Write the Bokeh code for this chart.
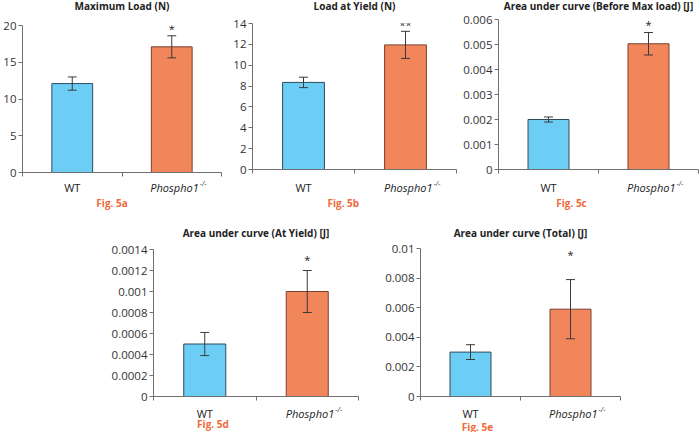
from bokeh.plotting import figure
from bokeh.layouts import column, row
from bokeh.models import Range1d, FixedTicker, CustomJSTickFormatter, Spacer
from bokeh.core.properties import value
from bokeh.embed import file_html
from bokeh.resources import INLINE

# ---------------- data ----------------
groups = ["WT", "Phospho1"]
genotype_sup = "-/-"
fig_labels = ["Fig. 5a", "Fig. 5b", "Fig. 5c", "Fig. 5d", "Fig. 5e"]
titles = ["Maximum Load (N)", "Load at Yield (N)",
          "Area under curve (Before Max load) [J]",
          "Area under curve (At Yield) [J]", "Area under curve (Total) [J]"]

max_load = [12.1, 17.1]
max_load_err = [0.9, 1.5]
yield_load = [8.35, 11.95]
yield_load_err = [0.5, 1.3]
auc_before = [0.002, 0.00503]
auc_before_err = [0.0001, 0.00045]
auc_yield = [0.0005, 0.001]
auc_yield_err = [0.00011, 0.0002]
auc_total = [0.003, 0.0059]
auc_total_err = [0.0005, 0.002]

stars = ["*", "**", "*", "*", "*"]
star_y = [19.7, 14.0, 0.00584, 0.00131, 0.00966]

ticks_a = [0, 5, 10, 15, 20]
ticks_b = [0, 2, 4, 6, 8, 10, 12, 14]
ticks_c = [0, 0.001, 0.002, 0.003, 0.004, 0.005, 0.006]
ticks_d = [0, 0.0002, 0.0004, 0.0006, 0.0008, 0.001, 0.0012, 0.0014]
ticks_e = [0, 0.002, 0.004, 0.006, 0.008, 0.01]

FONT = "Open Sans"
BLUE = "#6CCEF5"
ORANGE = "#F0865A"
ORANGE_TXT = "#EE6A3A"
AXIS = "#707070"
ERR = "#3a3a3a"
TXT = "#222222"


def strip(width, height, bl, br, x_range):
    s = figure(width=width, height=height, output_backend="svg",
               toolbar_location=None, min_border_left=bl, min_border_right=br,
               min_border_top=0, min_border_bottom=0,
               x_range=x_range, y_range=Range1d(0, height))
    s.axis.visible = False
    s.grid.visible = False
    s.outline_line_color = None
    return s


def panel(title, vals, errs, ticks, star, sy, flab, flab_x,
          bl, fw, br, title_h, title_t, fh, bb, strip_h, lab_t, fig_t, unit):
    width = bl + fw + br
    bt = 7
    xr = Range1d(0, fw / unit)

    # title strip
    t = strip(width, title_h, bl, br, xr)
    t.text(x=[fw / unit / 2], y=[title_h - title_t], text=[title], text_align="center",
           text_baseline="middle", text_font=value(FONT), text_font_style="bold",
           text_font_size="10px", text_color=TXT)

    p = figure(width=width, height=bt + fh + bb, output_backend="svg",
               toolbar_location=None, min_border_left=bl, min_border_right=br,
               min_border_top=bt, min_border_bottom=bb,
               x_range=xr, y_range=Range1d(ticks[0], ticks[-1]))
    p.outline_line_color = None
    p.grid.visible = False

    xs = [0.5, 1.5]
    p.vbar(x=xs, top=vals, bottom=0, width=0.41,
           fill_color=[BLUE, ORANGE], line_color=["#2E4B5C", "#7A4030"], line_width=1)
    lo = [v - e for v, e in zip(vals, errs)]
    hi = [v + e for v, e in zip(vals, errs)]
    p.segment(x0=xs, y0=lo, x1=xs, y1=hi, line_color=ERR, line_width=1)
    cw = 4.5 / unit
    p.segment(x0=[x - cw for x in xs] * 2, y0=lo + hi,
              x1=[x + cw for x in xs] * 2, y1=lo + hi, line_color=ERR, line_width=1)
    p.text(x=[1.5], y=[sy], text=[star], text_align="center", y_offset=1,
           text_baseline="middle", text_font=value(FONT),
           text_font_size="11px", text_color=TXT)

    p.yaxis.ticker = FixedTicker(ticks=ticks)
    p.yaxis.formatter = CustomJSTickFormatter(code="return tick.toString();")
    p.yaxis.major_label_text_font = FONT
    p.yaxis.major_label_text_font_size = "11.5px"
    p.yaxis.major_label_text_color = "#333333"
    p.yaxis.major_label_standoff = 2
    p.yaxis.major_tick_out = 4
    p.yaxis.major_tick_in = 0
    p.yaxis.minor_tick_out = 0
    p.yaxis.minor_tick_in = 0
    p.yaxis.axis_line_color = AXIS
    p.yaxis.major_tick_line_color = AXIS

    p.xaxis.ticker = FixedTicker(ticks=[], minor_ticks=[0, 1, 2])
    p.xaxis.major_tick_out = 0
    p.xaxis.major_tick_in = 0
    p.xaxis.minor_tick_out = 4
    p.xaxis.minor_tick_in = 0
    p.xaxis.axis_line_color = AXIS
    p.xaxis.minor_tick_line_color = AXIS

    # bottom strip: category labels and the figure label
    s = strip(width, strip_h, bl, br, xr)
    ly = strip_h - lab_t
    s.text(x=[0.5], y=[ly], text=[groups[0]], text_align="center",
           text_baseline="middle", text_font=value(FONT),
           text_font_size="11px", text_color=TXT)
    s.text(x=[1.5], y=[ly], x_offset=27, text=[groups[1]], text_align="right",
           text_baseline="middle", text_font=value(FONT), text_font_style="italic",
           text_font_size="11px", text_color=TXT)
    s.text(x=[1.5], y=[ly + 4], x_offset=28, text=[genotype_sup], text_align="left",
           text_baseline="middle", text_font=value(FONT), text_font_style="italic",
           text_font_size="7px", text_color=TXT)
    s.text(x=[flab_x], y=[strip_h - fig_t], text=[flab], text_align="center",
           text_baseline="middle", text_font=value(FONT), text_font_style="bold",
           text_font_size="10px", text_color=ORANGE_TXT)
    return column(t, p, s)


fig_label_x = [0.90, 0.89, 0.73, 0.58, 0.57]

# top row (frames: a 19..221 x 25..172, b 252..456 x 23..169, c 496..698 x 19..169)
ca = panel(titles[0], max_load, max_load_err, ticks_a, stars[0], star_y[0],
           fig_labels[0], fig_label_x[0],
           19, 202, 5, 18, 5, 147, 6, 34, 9, 24, 101)
cb = panel(titles[1], yield_load, yield_load_err, ticks_b, stars[1], star_y[1],
           fig_labels[1], fig_label_x[1],
           26, 204, 4, 16, 5, 146, 6, 37, 12, 27, 102)
cc = panel(titles[2], auc_before, auc_before_err, ticks_c, stars[2], star_y[2],
           fig_labels[2], fig_label_x[2],
           36, 202, 2, 12, 5, 150, 6, 37, 12, 27, 101)

# bottom row, starting at y=212 (frames: d 152..358 x 249..396, e 420..620 x 248..396)
cd = panel(titles[3], auc_yield, auc_yield_err, ticks_d, stars[3], star_y[3],
           fig_labels[3], fig_label_x[3],
           44, 206, 4, 30, 20, 147, 6, 30, 11, 21, 103)
ce = panel(titles[4], auc_total, auc_total_err, ticks_e, stars[4], star_y[4],
           fig_labels[4], fig_label_x[4],
           40, 200, 4, 29, 20, 148, 6, 30, 11, 24, 100)

layout = column(row(ca, cb, cc),
                row(Spacer(width=108, height=220), cd, Spacer(width=18, height=220), ce))

open("out.html", "w").write(file_html(layout, INLINE))
